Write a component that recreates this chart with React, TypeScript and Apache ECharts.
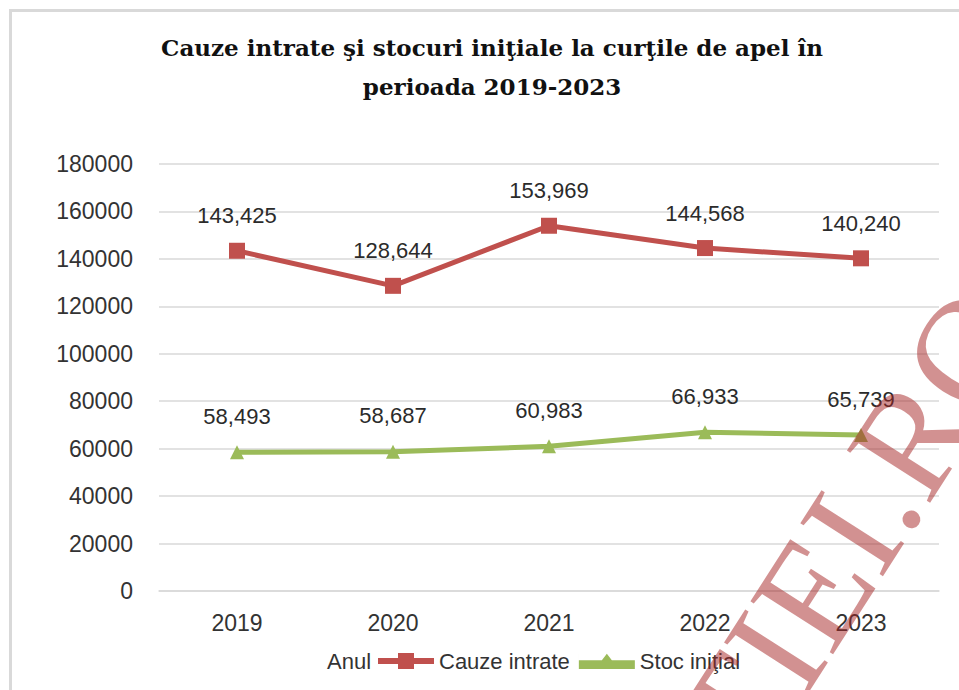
import React, { useEffect, useRef } from "react";
import * as echarts from "echarts";

const years = ["2019", "2020", "2021", "2022", "2023"];
const cauzeIntrate = [143425, 128644, 153969, 144568, 140240];
const stocInitial = [58493, 58687, 60983, 66933, 65739];
const titleText = "Cauze intrate şi stocuri iniţiale la curţile de apel în\nperioada 2019-2023";
const seriesNames = ["Cauze intrate", "Stoc iniţial"];
const legendLead = "Anul";
const watermark = "LUMEAJUSTITIEI.RO";

const fmt = (v: number) => v.toLocaleString("en-US");

const squareIcon = "path://M0,5H20V0H36V5H56V11H36V16H20V11H0Z";
const triangleIcon = "path://M0,0H0.01V5H23L28,0.5L33,5H56V11H0Z";

export default function App() {
  const ref = useRef<HTMLDivElement>(null);
  useEffect(() => {
    if (!ref.current) return;
    const chart = echarts.init(ref.current, undefined, { renderer: "svg" });
    const sans = "'Liberation Sans', Arial, sans-serif";
    const labelStyle = {
      show: true,
      position: "top" as const,
      distance: 16,
      fontFamily: sans,
      fontSize: 22,
      color: "#2b2b2b",
      formatter: (p: any) => fmt(p.value),
    };
    chart.setOption({
      animation: false,
      backgroundColor: "#ffffff",
      title: {
        text: titleText,
        left: 487,
        textAlign: "center",
        top: 23,
        textStyle: {
          fontFamily: "'DejaVu Serif', 'Liberation Serif', serif",
          fontWeight: "bold",
          fontSize: 23,
          lineHeight: 39,
          color: "#111111",
        },
      },
      grid: { left: 159, right: 20, top: 164, bottom: 99, containLabel: false },
      xAxis: {
        type: "category",
        data: years,
        boundaryGap: true,
        axisLine: { show: true, lineStyle: { color: "#d9d9d9", width: 1.5 } },
        axisTick: { show: false },
        axisLabel: { fontFamily: sans, fontSize: 23, color: "#333333", margin: 20 },
        splitLine: { show: false },
      },
      yAxis: {
        type: "value",
        min: 0,
        max: 180000,
        interval: 20000,
        axisLine: { show: false },
        axisTick: { show: false },
        axisLabel: {
          fontFamily: sans,
          fontSize: 23,
          color: "#333333",
          margin: 26,
          formatter: (v: number) => String(v),
        },
        splitLine: { lineStyle: { color: "#d9d9d9", width: 1.5 } },
      },
      legend: {
        left: 373,
        top: 645,
        itemWidth: 56,
        itemHeight: 16,
        itemGap: 9,
        symbolKeepAspect: false,
        textStyle: { fontFamily: sans, fontSize: 22, color: "#333333" },
        data: [
          { name: seriesNames[0], icon: squareIcon, itemStyle: { color: "#c0504d" } },
          { name: seriesNames[1], icon: triangleIcon, itemStyle: { color: "#9bbb59" } },
        ],
      },
      series: [
        {
          name: seriesNames[0],
          type: "line",
          data: cauzeIntrate,
          symbol: "rect",
          symbolSize: 16,
          color: "#c0504d",
          lineStyle: { width: 5, color: "#c0504d" },
          itemStyle: { color: "#c0504d" },
          label: labelStyle,
        },
        {
          name: seriesNames[1],
          type: "line",
          data: stocInitial,
          symbol: "triangle",
          symbolSize: 14,
          color: "#9bbb59",
          lineStyle: { width: 5, color: "#9bbb59" },
          itemStyle: { color: "#9bbb59" },
          label: { ...labelStyle, distance: 18 },
        },
      ],
      graphic: [
        {
          type: "rect",
          left: 8,
          top: 8,
          shape: { x: 0, y: 0, width: 1000, height: 800 },
          style: { fill: "none", stroke: "#d9d9d9", lineWidth: 3 },
          silent: true,
          z: -1,
        },
        {
          type: "text",
          x: 327,
          y: 661,
          style: {
            text: legendLead,
            font: "22px 'Liberation Sans', Arial, sans-serif",
            fill: "#333333",
            textVerticalAlign: "middle",
          },
        },
        {
          type: "text",
          x: 1060,
          y: 345,
          rotation: 1.0,
          z: 100,
          silent: true,
          style: {
            text: watermark,
            font: "150px 'Liberation Serif', 'Times New Roman', serif",
            fill: "rgba(165, 35, 35, 0.5)",
            textAlign: "right",
            textVerticalAlign: "bottom",
          },
        },
      ],
    });
    return () => chart.dispose();
  }, []);
  return (
    <div
      ref={ref}
      style={{ position: "absolute", left: 0, top: 0, width: 959, height: 690 }}
    />
  );
}
